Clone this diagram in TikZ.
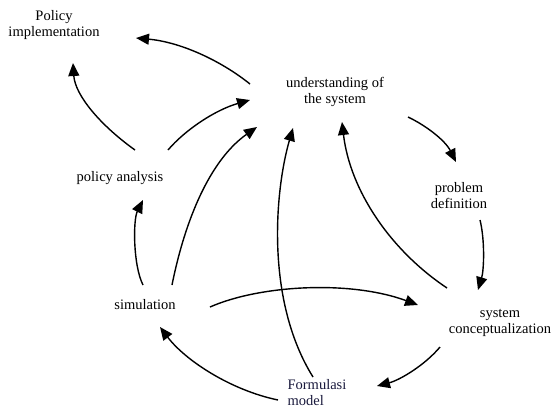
\documentclass[tikz,border=0pt]{standalone}
\usepackage{fontspec}
\setmainfont{Liberation Serif}
\usetikzlibrary{arrows.meta}
\definecolor{navytext}{RGB}{25,25,60}
\begin{document}
\begin{tikzpicture}[x=1pt,y=-1pt,
  lbl/.style={inner sep=0pt,align=center,font=\fontsize{14.5}{16}\selectfont},
  conn/.style={line width=1.4pt,-{Triangle[length=13pt,width=11pt]}}]
\useasboundingbox (0,0) rectangle (552,408);
\node[lbl] (impl) at (54,25) {Policy\\implementation};
\node[lbl] (und) at (335,92) {understanding of\\the system};
\node[lbl] (prob) at (459,196) {problem\\definition};
\node[lbl] (pa) at (120,178) {policy analysis};
\node[lbl] (sim) at (145,305) {simulation};
\node[lbl] (sc) at (500,323) {system\\conceptualization};
\node[lbl,align=left,text=navytext] (fm) at (317,393) {Formulasi\\model};

\draw[conn] ([shift={(-85,-8)}]und.center) .. controls (220,60) and (180,42) .. ([shift={(82,13)}]impl.center);
\draw[conn] ([shift={(15,-28)}]pa.center) .. controls (100,125) and (75,95) .. ([shift={(19,38)}]impl.center);
\draw[conn] ([shift={(48,-28)}]pa.center) .. controls (185,130) and (215,110) .. ([shift={(-85,8)}]und.center);
\draw[conn] ([shift={(27,-20)}]sim.center) .. controls (185,220) and (210,160) .. ([shift={(-78,35)}]und.center);
\draw[conn] ([shift={(-2,-20)}]sim.center) .. controls (133,265) and (133,220) .. ([shift={(23,22)}]pa.center);
\draw[conn] ([shift={(65,2)}]sim.center) .. controls (260,285) and (350,280) .. ([shift={(-82,-18)}]sc.center);
\draw[conn] ([shift={(-39,7)}]fm.center) .. controls (230,390) and (185,360) .. ([shift={(15,22)}]sim.center);
\draw[conn] ([shift={(-4,-16)}]fm.center) .. controls (265,300) and (275,190) .. ([shift={(-42,36)}]und.center);
\draw[conn] ([shift={(-53,-35)}]sc.center) .. controls (390,250) and (350,190) .. ([shift={(7,30)}]und.center);
\draw[conn] ([shift={(73,25)}]und.center) .. controls (425,125) and (445,140) .. ([shift={(-3,-34)}]prob.center);
\draw[conn] ([shift={(21,24)}]prob.center) .. controls (485,240) and (484,270) .. ([shift={(-22,-33)}]sc.center);
\draw[conn] ([shift={(-60,24)}]sc.center) .. controls (425,365) and (400,380) .. ([shift={(60,-7)}]fm.center);
\end{tikzpicture}
\end{document}
